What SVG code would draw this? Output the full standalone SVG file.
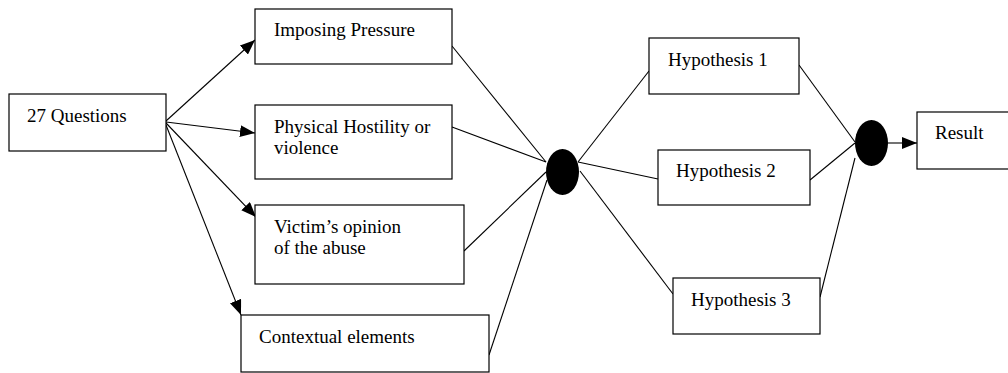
<svg xmlns="http://www.w3.org/2000/svg" width="1008" height="373" viewBox="0 0 1008 373">
<style>
.box{fill:#fff;stroke:#000;stroke-width:1.2}
.lbl{font-family:"Liberation Serif","Times New Roman",Times,"DejaVu Serif",serif;font-size:19px;fill:#000}
.ln{stroke:#000;stroke-width:1.1;fill:none}
.dot{fill:#000}
</style>
<defs>
<marker id="arr" markerWidth="15" markerHeight="12" refX="15" refY="6" orient="auto" markerUnits="userSpaceOnUse">
<path d="M0,0 L15,6 L0,12 Z" fill="#000"/>
</marker>
</defs>
<rect width="1008" height="373" fill="#fff"/>
<g id="connectors">
<line class="ln" x1="166" y1="121" x2="255" y2="40" marker-end="url(#arr)"/>
<line class="ln" x1="166" y1="122" x2="255" y2="133" marker-end="url(#arr)"/>
<line class="ln" x1="166" y1="123" x2="256" y2="217" marker-end="url(#arr)"/>
<line class="ln" x1="166" y1="125" x2="241" y2="315" marker-end="url(#arr)"/>
<line class="ln" x1="452" y1="46" x2="546" y2="162"/>
<line class="ln" x1="452" y1="127" x2="546" y2="162"/>
<line class="ln" x1="464" y1="251" x2="546" y2="172"/>
<line class="ln" x1="489" y1="355" x2="547" y2="180"/>
<line class="ln" x1="578" y1="162" x2="649" y2="71"/>
<line class="ln" x1="578" y1="162" x2="658" y2="179"/>
<line class="ln" x1="580" y1="171" x2="673" y2="294"/>
<line class="ln" x1="799" y1="65" x2="855" y2="142"/>
<line class="ln" x1="810" y1="180" x2="855" y2="143"/>
<line class="ln" x1="820" y1="297" x2="855" y2="158"/>
<line class="ln" x1="888" y1="143" x2="917" y2="143" marker-end="url(#arr)"/>
</g>
<g id="n-questions"><rect class="box" x="9" y="94" width="157" height="57"/><text class="lbl" x="27" y="122">27 Questions</text></g>
<g id="n-pressure"><rect class="box" x="255" y="9" width="197" height="55"/><text class="lbl" x="274" y="36">Imposing Pressure</text></g>
<g id="n-physical"><rect class="box" x="255" y="105" width="197" height="74"/><text class="lbl" x="274" y="133">Physical Hostility or</text><text class="lbl" x="274" y="154">violence</text></g>
<g id="n-victim"><rect class="box" x="255" y="205" width="209" height="79"/><text class="lbl" x="274" y="233">Victim’s opinion</text><text class="lbl" x="274" y="254">of the abuse</text></g>
<g id="n-context"><rect class="box" x="241" y="315" width="248" height="57"/><text class="lbl" x="259" y="343">Contextual elements</text></g>
<g id="n-join1"><ellipse class="dot" cx="562.5" cy="172" rx="16.5" ry="23"/></g>
<g id="n-h1"><rect class="box" x="649" y="38" width="150" height="56"/><text class="lbl" x="668" y="66">Hypothesis 1</text></g>
<g id="n-h2"><rect class="box" x="658" y="150" width="152" height="55"/><text class="lbl" x="676" y="177">Hypothesis 2</text></g>
<g id="n-h3"><rect class="box" x="673" y="278" width="147" height="56"/><text class="lbl" x="691" y="306">Hypothesis 3</text></g>
<g id="n-join2"><ellipse class="dot" cx="871.5" cy="143" rx="16.5" ry="23"/></g>
<g id="n-result"><rect class="box" x="917" y="112" width="100" height="57"/><text class="lbl" x="935" y="139">Result</text></g>
</svg>
